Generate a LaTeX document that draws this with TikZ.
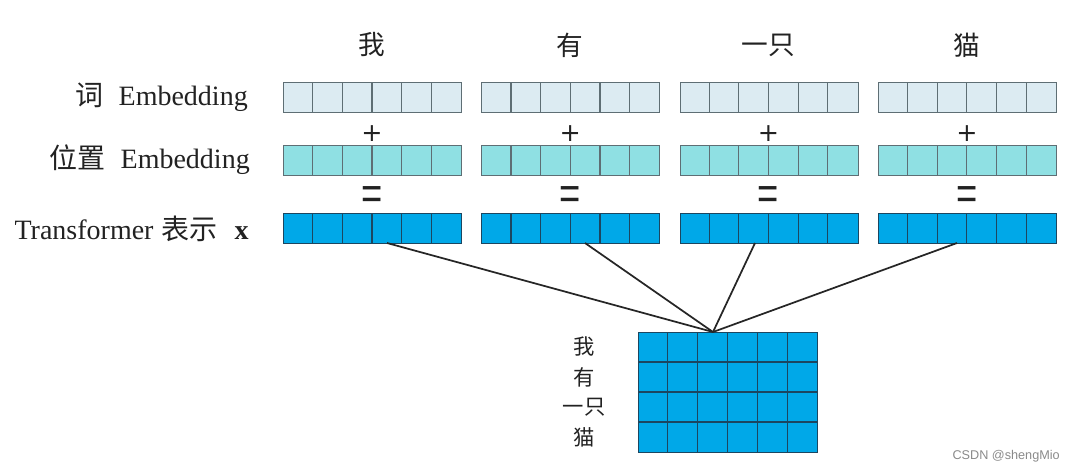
\documentclass[tikz,border=0pt]{standalone}
\usepackage{fontspec}
\usepackage{graphicx}
\setmainfont{Liberation Serif}
\newfontfamily\cjk{Noto Sans CJK SC}
\newfontfamily\sansf{Liberation Sans}
\newfontfamily\symf{DejaVu Sans}
\definecolor{wordc}{HTML}{DCEBF2}
\definecolor{posc}{HTML}{8FE0E3}
\definecolor{trc}{HTML}{00A8E8}
\definecolor{gridc}{HTML}{5E6E74}
\definecolor{darkgrid}{HTML}{1C4660}
\definecolor{wm}{HTML}{8A8A8A}
\definecolor{txt}{HTML}{222222}
\tikzset{
  bar/.style={draw=gridc, line width=0.8pt, anchor=north west, inner sep=0pt,
              minimum width=133.5pt, minimum height=22.5pt},
  cellline/.style={draw=gridc, line width=0.8pt},
  darkline/.style={draw=darkgrid, line width=0.8pt},
  word/.style={font=\cjk\fontsize{20}{22}\selectfont, inner sep=0pt, text=txt},
  sym/.style={font=\symf\fontsize{19}{21}\selectfont, inner sep=0pt, text=txt},
  eqsym/.style={font=\sansf\fontsize{26}{28}\selectfont, inner sep=0pt, text=txt},
  lbl/.style={anchor=east, inner sep=0pt, font=\fontsize{21}{24}\selectfont, text=txt},
  rowlbl/.style={font=\cjk\fontsize{16}{18}\selectfont, inner sep=0pt, text=txt},
  link/.style={draw=black!85, line width=1.3pt}
}
\begin{document}
\begin{tikzpicture}[x=0.75pt,y=-0.75pt]
\useasboundingbox (0,0) rectangle (1074,472);
% labels
\node[lbl] (l1) at (248,97) {{\cjk 词}\hspace{0.55em}Embedding};
\node[lbl] (l2) at (250,160) {{\cjk 位置}\hspace{0.55em}Embedding};
\node[lbl] (l3) at (249,229) {Transformer\hspace{0.3em}{\cjk 表示}\hspace{0.6em}\textbf{x}};
% matrix
\node[bar, fill=trc, draw=darkgrid, minimum width=134.25pt, minimum height=90pt] (M) at (638,332) {};
\foreach \k in {1,...,5} {
  \draw[darkline] ([xshift=\k*22.375pt]M.north west) -- ([xshift=\k*22.375pt]M.south west);
}
\foreach \k in {1,2,3} {
  \draw[darkline] ([yshift=-\k*22.5pt]M.north west) -- ([yshift=-\k*22.5pt]M.north east);
}
\coordinate (apex) at (713,332);
\node[rowlbl] (r1) at (584,347) {我};
\node[rowlbl] (r2) at (584,377) {有};
\node[rowlbl] (r3) at (584,407) {一只};
\node[rowlbl] (r4) at (584,437) {猫};
% groups
\foreach \i/\w/\sx in {1/我/387, 2/有/585, 3/一只/755, 4/猫/957} {
  \pgfmathsetmacro{\xo}{283+(\i-1)*198.3}
  \pgfmathsetmacro{\xc}{\xo+89}
  \node[word] (w\i) at (\xc,45) {\w};
  \node[bar, fill=wordc] (e\i) at (\xo,82) {};
  \node[sym] (p\i) at (\xc,134) {+};
  \node[bar, fill=posc] (q\i) at (\xo,145) {};
  \node[eqsym] (eq\i) at (\xc,198) {\scalebox{1.05}[1.35]{=}};
  \node[bar, fill=trc, draw=darkgrid] (t\i) at (\xo,213) {};
  \foreach \k in {1,...,5} {
    \draw[cellline] ([xshift=\k*22.25pt]e\i.north west) -- ([xshift=\k*22.25pt]e\i.south west);
    \draw[cellline] ([xshift=\k*22.25pt]q\i.north west) -- ([xshift=\k*22.25pt]q\i.south west);
    \draw[darkline] ([xshift=\k*22.25pt]t\i.north west) -- ([xshift=\k*22.25pt]t\i.south west);
  }
  \coordinate (s\i) at (\sx,243);
  \draw[link] (s\i) -- (apex);
}
% watermark
\node[font=\sansf\fontsize{9.5}{11}\selectfont, text=wm, anchor=east, inner sep=0pt] (wmk) at (1060,456) {CSDN @shengMio};
\end{tikzpicture}
\end{document}
